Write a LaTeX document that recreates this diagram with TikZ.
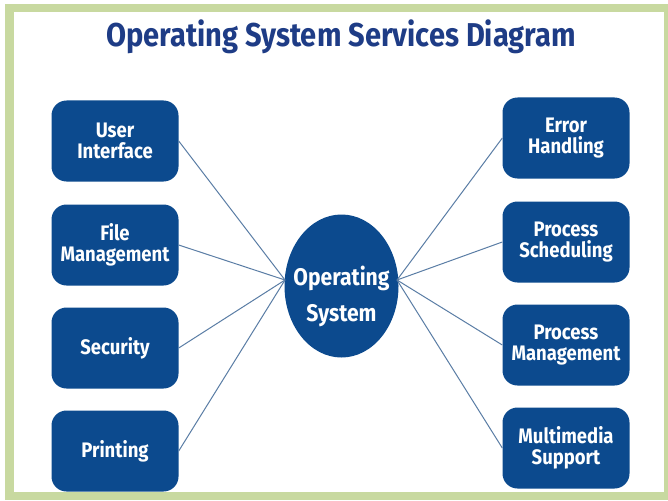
\documentclass[tikz,border=0pt]{standalone}
\usepackage{fontspec}
\usetikzlibrary{shapes.geometric}
\setmainfont{Fira Sans}[FakeStretch=0.88]
\definecolor{frameg}{HTML}{C8D9A0}
\definecolor{boxblue}{HTML}{0C4A8E}
\definecolor{titleblue}{HTML}{1E3C86}
\definecolor{linkc}{HTML}{5A7DA5}
\begin{document}
\begin{tikzpicture}[x=1pt,y=-1pt,
  svc/.style={draw=none, fill=boxblue, rounded corners=15pt, minimum width=127pt, minimum height=81pt,
    text=white, font=\bfseries\fontsize{21}{21}\selectfont, align=center, inner sep=0pt},
  link/.style={draw=linkc, line width=1pt}]
\useasboundingbox (0,0) rectangle (668,500);
\fill[white] (0,0) rectangle (668,500);
\fill[frameg] (5,4) rectangle (668,500);
\fill[white] (14,12) rectangle (664,492);
\node[text=titleblue, font=\bfseries\fontsize{33}{33}\selectfont] (title) at (341,37) {Operating System Services Diagram};
\node[svc] (ui) at (115,141) {User\\Interface};
\node[svc] (fm) at (115,245) {File\\Management};
\node[svc] (sec) at (115,348) {Security};
\node[svc] (pr) at (115,451) {Printing};
\node[svc] (eh) at (566,138) {Error\\Handling};
\node[svc] (ps) at (566,242) {Process\\Scheduling};
\node[svc] (pm) at (566,345) {Process\\Management};
\node[svc] (ms) at (566,448) {Multimedia\\Support};
\node[ellipse, fill=boxblue, minimum width=114pt, minimum height=143pt, inner sep=0pt] (os) at (341.5,286) {};
\node[text=white, font=\bfseries\fontsize{24}{36}\selectfont, align=center] (oslabel) at (341.5,296) {Operating\\System};
\coordinate (osl) at (285,280);
\coordinate (osr) at (397,280);
\draw[link] (ui.east) -- (osl);
\draw[link] (fm.east) -- (osl);
\draw[link] (sec.east) -- (osl);
\draw[link] (pr.east) -- (osl);
\draw[link] (eh.west) -- (osr);
\draw[link] (ps.west) -- (osr);
\draw[link] (pm.west) -- (osr);
\draw[link] (ms.west) -- (osr);
\end{tikzpicture}
\end{document}
